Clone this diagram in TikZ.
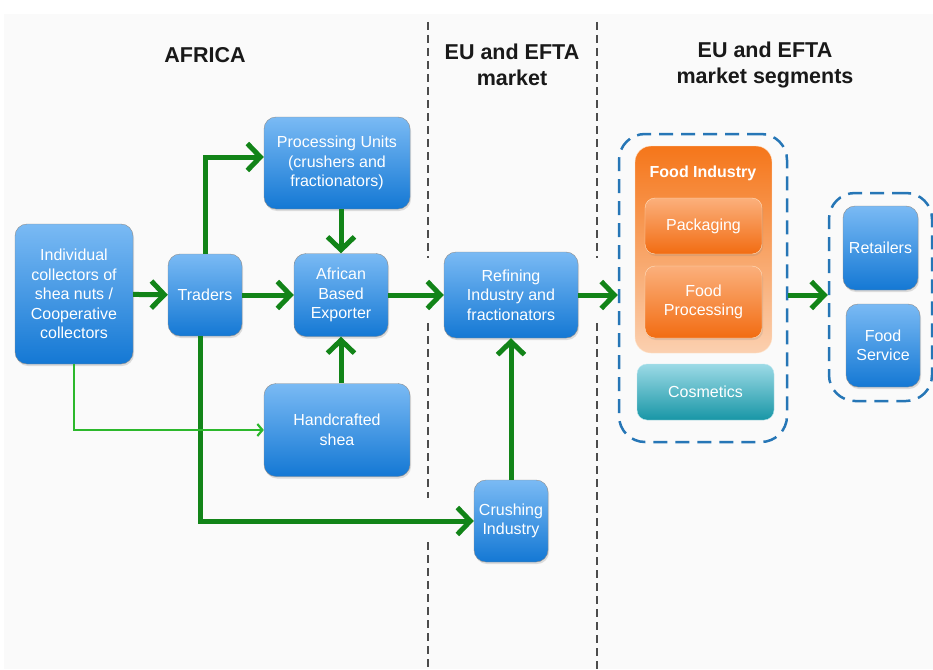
\documentclass[tikz,border=0pt]{standalone}
\usepackage{fontspec}
\setmainfont{Liberation Sans}
\usetikzlibrary{arrows.meta,shadows}
\definecolor{boxtop}{RGB}{122,186,244}
\definecolor{boxbot}{RGB}{20,120,212}
\definecolor{flowgreen}{RGB}{18,132,24}
\definecolor{thingreen}{RGB}{44,184,44}
\definecolor{segblue}{RGB}{38,118,182}
\definecolor{foodtop}{RGB}{245,118,26}
\definecolor{foodbot}{RGB}{251,208,176}
\definecolor{subtop}{RGB}{251,176,124}
\definecolor{subbot}{RGB}{242,108,18}
\definecolor{cosmtop}{RGB}{156,218,230}
\definecolor{cosmbot}{RGB}{24,150,166}
\tikzstyle{block} = [draw=black!45, rounded corners=12pt, top color=boxtop, bottom color=boxbot, text=white, align=center, font=\fontsize{16}{19.5}\selectfont, drop shadow={opacity=0.25,shadow xshift=1pt,shadow yshift=-2pt}]
\tikzstyle{subbox} = [draw=orange!25, rounded corners=10pt, top color=subtop, bottom color=subbot, text=white, align=center, font=\fontsize{16}{19.5}\selectfont, drop shadow={opacity=0.2,shadow xshift=1pt,shadow yshift=-2pt}]
\tikzstyle{cosmbox} = [draw=cosmtop!70, rounded corners=10pt, top color=cosmtop, bottom color=cosmbot, text=white, align=center, font=\fontsize{16}{19.5}\selectfont]
\tikzstyle{foodbox} = [draw=orange!20, rounded corners=16pt, top color=foodtop, bottom color=foodbot]
\tikzstyle{seg} = [draw=segblue, line width=2.5pt, dash pattern=on 14pt off 8pt, rounded corners=26pt]
\tikzstyle{head} = [align=center, text=black!90, font=\fontsize{21.5}{26}\selectfont\bfseries]
\tikzstyle{sep} = [draw=black!70, line width=1.5pt, dash pattern=on 8pt off 5pt]
\tikzstyle{flow} = [-{Straight Barb[length=13pt,width=27pt]}, line width=5pt, draw=flowgreen]
\tikzstyle{thin} = [-{Straight Barb[length=5pt,width=12pt]}, line width=2.2pt, draw=thingreen]

\begin{document}
\begin{tikzpicture}[x=1pt,y=-1pt]
	\useasboundingbox (0,0) rectangle (933,669);
	\fill[black!2] (4,14) rectangle (933,669);

	% column separators
	\draw[sep] (428,22) -- (428,258) (428,323) -- (428,498) (428,542) -- (428,669);
	\draw[sep] (597,22) -- (597,258) (597,323) -- (597,669);

	\node (hafr) [head] at (205,55) {AFRICA};
	\node (heu) [head] at (512,65) {EU and EFTA\\market};
	\node (hseg) [head] at (765,65) {EU and EFTA\\market segments};

	\node (coll) [block, minimum width=118pt, minimum height=140pt] at (74,294) {Individual\\collectors of\\shea nuts /\\Cooperative\\collectors};
	\node (trad) [block, minimum width=74pt, minimum height=82pt] at (205,295) {Traders};
	\node (proc) [block, minimum width=146pt, minimum height=92pt] at (337,163) {Processing Units\\(crushers and\\fractionators)};
	\node (exp) [block, minimum width=94pt, minimum height=83pt] at (341,295) {African\\Based\\Exporter};
	\node (hand) [block, minimum width=146pt, minimum height=93pt] at (337,430) {Handcrafted\\shea};
	\node (ref) [block, minimum width=134pt, minimum height=86pt] at (511,295) {Refining\\Industry and\\fractionators};
	\node (crush) [block, minimum width=74pt, minimum height=82pt] at (511,521) {Crushing\\Industry};

	% market segments
	\node (seg1) [seg, minimum width=168pt, minimum height=308pt] at (703,288) {};
	\node (food) [foodbox, minimum width=137pt, minimum height=207pt] at (703.5,249.5) {};
	\node (ftit) [text=white, font=\fontsize{16}{19.5}\selectfont\bfseries] at (703,173) {Food Industry};
	\node (pack) [subbox, minimum width=117pt, minimum height=56pt] at (703.5,226) {Packaging};
	\node (fproc) [subbox, minimum width=117pt, minimum height=72pt] at (703.5,302) {Food\\Processing};
	\node (cosm) [cosmbox, minimum width=137pt, minimum height=56pt] at (705.5,392) {Cosmetics};
	\node (seg2) [seg, minimum width=103pt, minimum height=208pt] at (880.5,297) {};
	\node (ret) [block, minimum width=75pt, minimum height=84pt] at (880.5,248) {Retailers};
	\node (serv) [block, minimum width=74pt, minimum height=83pt] at (883,345.5) {Food\\Service};

	\draw[flow] (coll) -- (trad);
	\draw[flow] (trad) -- (exp);
	\draw[flow] (trad.north) |- ([yshift=6pt]proc.west);
	\draw[flow] (exp |- proc.south) -- (exp.north);
	\draw[flow] (exp |- hand.north) -- (exp.south);
	\draw[flow] (exp) -- (ref);
	\draw[flow] (ref) -- (ref -| seg1.west);
	\draw[flow] ([xshift=-5pt]trad.south) |- (crush.west);
	\draw[flow] (crush) -- (ref);
	\draw[flow] (seg1.east |- ref) -- (ref -| seg2.west);
	\draw[thin] (coll.south) |- (hand.west);
\end{tikzpicture}
\end{document}
